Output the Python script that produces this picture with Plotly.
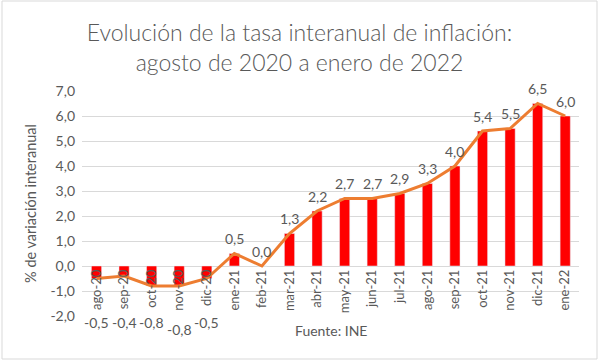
import plotly.graph_objects as go

categories = ["ago-20", "sep-20", "oct-20", "nov-20", "dic-20", "ene-21", "feb-21",
              "mar-21", "abr-21", "may-21", "jun-21", "jul-21", "ago-21", "sep-21",
              "oct-21", "nov-21", "dic-21", "ene-22"]
values = [-0.5, -0.4, -0.8, -0.8, -0.5, 0.5, 0.0, 1.3, 2.2, 2.7, 2.7, 2.9, 3.3, 4.0,
          5.4, 5.5, 6.5, 6.0]
y_ticks = [-2, -1, 0, 1, 2, 3, 4, 5, 6, 7]
y_min, y_max = -2, 7

FONT = "Lato"
GREY = "#595959"

def fmt(v):
    return f"{v:.1f}".replace(".", ",")

fig = go.Figure()
fig.add_trace(go.Bar(x=categories, y=values, marker_color="#FF0000", width=0.37,
                     hoverinfo="skip"))
fig.add_trace(go.Scatter(x=categories, y=values, mode="lines",
                         line=dict(color="#ED7D31", width=3), hoverinfo="skip"))

annotations = []
for c, v in zip(categories, values):
    if v >= 0:
        annotations.append(dict(x=c, y=v, text=fmt(v), showarrow=False, yshift=15,
                                font=dict(family=FONT, size=14, color=GREY)))
    else:
        shift = -13 if c == "nov-20" else -6
        annotations.append(dict(x=c, y=y_min, text=fmt(v), showarrow=False,
                                yanchor="middle", yshift=shift,
                                font=dict(family=FONT, size=14, color=GREY)))

L, R, T, B = 82, 20, 91, 46
W, H = 599, 362
pw, ph = W - L - R, H - T - B

annotations.append(dict(xref="paper", yref="paper", x=(331 - L) / pw, y=(316 - 330) / ph,
                        text="Fuente: INE", showarrow=False, xanchor="center", yanchor="middle",
                        font=dict(family=FONT, size=14, color=GREY)))

fig.add_shape(type="rect", xref="paper", yref="paper",
              x0=(2 - L) / pw, x1=(597 - L) / pw,
              y0=(316 - 359) / ph, y1=(316 - 1) / ph,
              line=dict(color="#D9D9D9", width=1), layer="below")

fig.update_layout(
    width=W, height=H,
    margin=dict(l=L, r=R, t=T, b=B),
    paper_bgcolor="white", plot_bgcolor="white",
    showlegend=False,
    title=dict(text="Evolución de la tasa interanual de inflación:<br>agosto de 2020 a enero de 2022",
               x=0.5, xanchor="center", y=1 - 41 / H, yanchor="middle",
               font=dict(family=FONT, size=23, color=GREY, weight=300)),
    xaxis=dict(type="category", anchor="free", position=(0 - y_min) / (y_max - y_min),
               tickangle=-90, showgrid=False, showline=False, ticks="", ticklen=0,
               tickfont=dict(family=FONT, size=13, color=GREY)),
    yaxis=dict(range=[y_min, y_max], tickvals=y_ticks,
               ticktext=[fmt(t) for t in y_ticks],
               showgrid=True, gridcolor="#D9D9D9", gridwidth=1, zeroline=False,
               ticks="", ticklen=0, ticklabelstandoff=6,
               tickfont=dict(family=FONT, size=14, color=GREY),
               title=dict(text="% de variación interanual", standoff=10,
                          font=dict(family=FONT, size=14.5, color=GREY))),
    annotations=annotations,
)

fig.write_html("out.html", config={"displayModeBar": False},
               post_script="document.body.style.margin='0';document.body.style.padding='0';")
